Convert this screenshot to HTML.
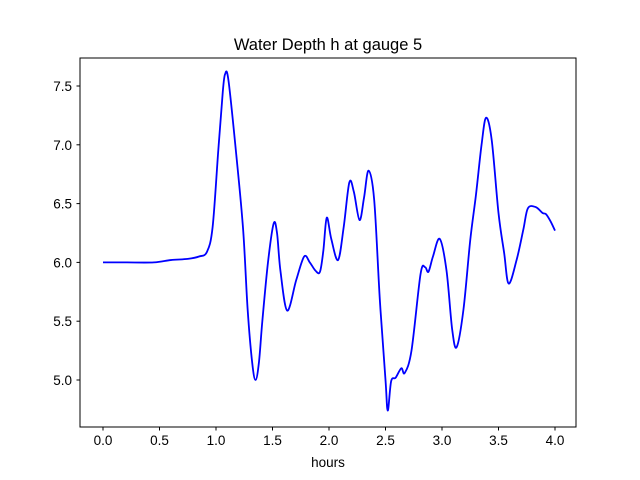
<!DOCTYPE html>
<html><head><meta charset="utf-8"><style>
html,body{margin:0;padding:0;background:#fff;}
svg{display:block;font-family:"Liberation Sans","DejaVu Sans",sans-serif;}
</style></head><body>
<svg id="chart" width="640" height="480">
<rect x="0" y="0" width="640" height="480" fill="#fff"/>
<text x="328" y="50" text-anchor="middle" font-size="16.5">Water Depth h at gauge 5</text>
<g id="plot"></g>
<rect x="80" y="58" width="496" height="369" fill="none" stroke="#000" stroke-width="1"/>
<text x="328" y="467" text-anchor="middle" font-size="13.5">hours</text>
</svg>
<script>
const hours=[0,0.2,0.45,0.6,0.75,0.85,0.92,0.97,1.02,1.06,1.08,1.11,1.18,1.24,1.28,1.32,1.35,1.38,1.41,1.46,1.51,1.54,1.57,1.63,1.71,1.78,1.83,1.88,1.92,1.95,1.98,2.02,2.08,2.13,2.18,2.22,2.27,2.31,2.35,2.4,2.45,2.5,2.52,2.55,2.59,2.64,2.67,2.73,2.81,2.85,2.88,2.92,2.98,3.04,3.09,3.13,3.19,3.25,3.3,3.35,3.39,3.44,3.5,3.55,3.59,3.66,3.72,3.76,3.83,3.89,3.92,3.96,4.0];
const depth=[6.0,6.0,6.0,6.02,6.03,6.05,6.09,6.3,6.95,7.45,7.6,7.55,6.91,6.28,5.6,5.15,5.0,5.15,5.5,6.0,6.33,6.25,5.93,5.59,5.85,6.05,6.0,5.93,5.92,6.1,6.38,6.2,6.02,6.3,6.68,6.6,6.36,6.55,6.78,6.53,5.68,5.0,4.74,4.99,5.02,5.1,5.06,5.25,5.9,5.96,5.92,6.05,6.2,5.93,5.43,5.28,5.6,6.19,6.57,7.0,7.23,7.04,6.42,6.08,5.82,6.02,6.28,6.46,6.47,6.42,6.41,6.35,6.27];
const xTicks=[0.0,0.5,1.0,1.5,2.0,2.5,3.0,3.5,4.0];
const yTicks=[5.0,5.5,6.0,6.5,7.0,7.5];
const X=v=>103+v*113;
const Y=v=>86+(7.5-v)*117.6;
const NS="http://www.w3.org/2000/svg";
const svg=document.getElementById('chart');
const plot=document.getElementById('plot');
function mk(t,a,p){const e=document.createElementNS(NS,t);for(const k in a)e.setAttribute(k,a[k]);(p||svg).appendChild(e);return e;}
const pts=hours.map((h,i)=>[X(h),Y(depth[i])]);
let d="M"+pts[0][0]+","+pts[0][1];
for(let i=0;i<pts.length-1;i++){
const p0=pts[Math.max(0,i-1)],p1=pts[i],p2=pts[i+1],p3=pts[Math.min(pts.length-1,i+2)];
const c1=[p1[0]+(p2[0]-p0[0])/6,p1[1]+(p2[1]-p0[1])/6];
const c2=[p2[0]-(p3[0]-p1[0])/6,p2[1]-(p3[1]-p1[1])/6];
d+=" C"+c1[0]+","+c1[1]+" "+c2[0]+","+c2[1]+" "+p2[0]+","+p2[1];}
const line=mk('path',{d:d,fill:'none',stroke:'#0000ff','stroke-width':1.8},plot);


xTicks.forEach(v=>{
const t=mk('line',{x1:X(v),x2:X(v),y1:427,y2:430.5,stroke:'#000'});


const l=mk('text',{x:X(v),y:445,'text-anchor':'middle','font-size':13.5});
l.textContent=v.toFixed(1);

});
yTicks.forEach(v=>{
const t=mk('line',{x1:76.5,x2:80,y1:Y(v),y2:Y(v),stroke:'#000'});


const l=mk('text',{x:72,y:Y(v)+5,'text-anchor':'end','font-size':13.5});
l.textContent=v.toFixed(1);

});
</script>
</body></html>
